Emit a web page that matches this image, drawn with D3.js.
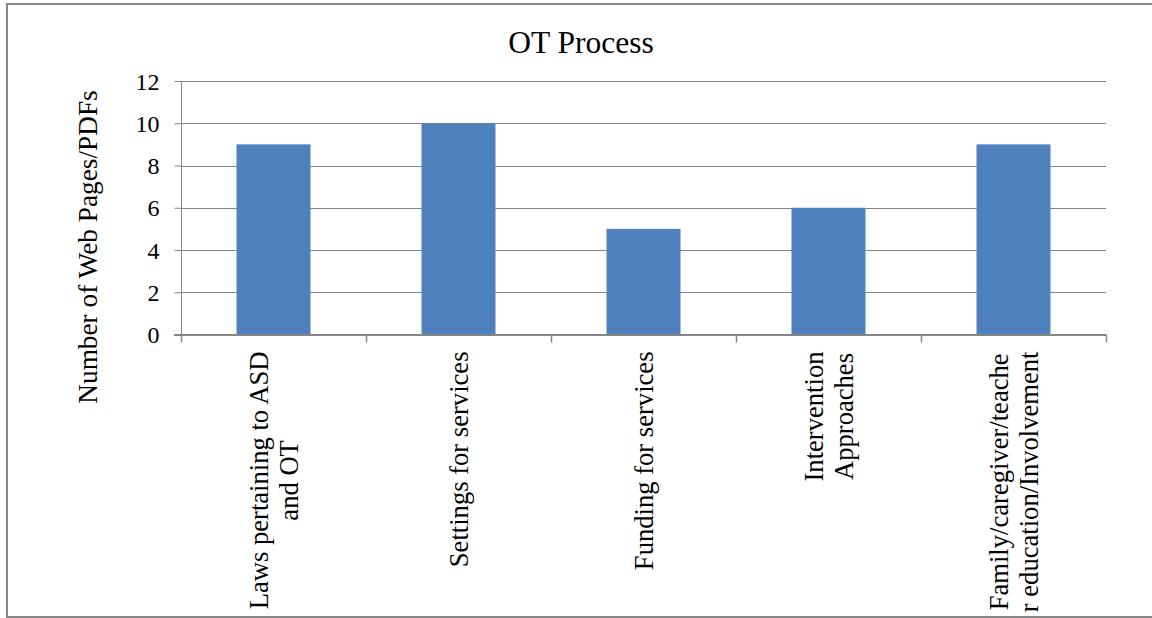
<!DOCTYPE html>
<html><head><meta charset="utf-8">
<script src="https://cdn.jsdelivr.net/npm/d3@7"></script>
<style>html,body{margin:0;padding:0;background:#fff;}svg{display:block;}</style>
</head><body>
<svg id="c" width="1152" height="618"></svg>
<script>
const title = "OT Process";
const yTitle = "Number of Web Pages/PDFs";
const categories = [
  ["Laws pertaining to ASD", "and OT"],
  ["Settings for services"],
  ["Funding for services"],
  ["Intervention", "Approaches"],
  ["Family/caregiver/teache", "r education/Involvement"]
];
const values = [9, 10, 5, 6, 9];
const yTicks = [0, 2, 4, 6, 8, 10, 12];

(function () {
const svg = d3.select("#c");
const font = "'Liberation Serif','Times New Roman',serif";
const grid = "#868686";
const pLeft = 181, pRight = 1106, pTop = 81, pBottom = 334.5;

svg.append("rect").attr("x", 7).attr("y", 4).attr("width", 1160).attr("height", 613)
  .attr("fill", "#fff").attr("stroke", grid).attr("stroke-width", 2);

const idx = categories.map((d, i) => i);
const x = d3.scaleBand().domain(idx).range([pLeft, pRight]).paddingInner(0).paddingOuter(0);
const y = d3.scaleLinear().domain([0, 12]).range([pBottom, pTop]);

// gridlines
svg.append("g").selectAll("line").data(yTicks.filter(t => t > 0)).join("line")
  .attr("x1", pLeft).attr("x2", pRight)
  .attr("y1", d => Math.round(y(d)) + 0.5).attr("y2", d => Math.round(y(d)) + 0.5)
  .attr("stroke", grid).attr("stroke-width", 1);

// bars
const bw = x.bandwidth() * 0.4;
svg.append("g").selectAll("rect").data(values).join("rect")
  .attr("x", (d, i) => x(i) + (x.bandwidth() - bw) / 2)
  .attr("width", bw)
  .attr("y", d => y(d))
  .attr("height", d => y(0) - y(d))
  .attr("fill", "#4F81BD");

// y axis
const yAxis = d3.axisLeft(y).tickValues(yTicks).tickSize(7).tickPadding(15).tickFormat(d3.format("d"));
const gy = svg.append("g").attr("transform", `translate(${pLeft + 0.5},0)`).call(yAxis);
gy.select(".domain").attr("stroke", grid).attr("d", `M0,${pTop}V${pBottom}`).attr("stroke-width", 1);
gy.selectAll(".tick line").attr("stroke", grid);
gy.selectAll(".tick text").attr("font-family", font).attr("font-size", 24).attr("fill", "#000")
  .attr("dy", "0.34em");

// x axis line
svg.append("line").attr("x1", pLeft - 7).attr("x2", pRight).attr("y1", pBottom + 0.5).attr("y2", pBottom + 0.5)
  .attr("stroke", grid).attr("stroke-width", 2);
const bounds = idx.map(i => x(i)).concat([pRight]);
svg.append("g").selectAll("line").data(bounds).join("line")
  .attr("x1", d => Math.round(d) + 0.5).attr("x2", d => Math.round(d) + 0.5)
  .attr("y1", pBottom).attr("y2", pBottom + 8)
  .attr("stroke", grid).attr("stroke-width", 1.5);

// category labels (rotated)
const lineGap = 30;
categories.forEach((lines, i) => {
  const cx = x(i) + x.bandwidth() / 2;
  const g = svg.append("g").attr("transform", `translate(${cx},${pBottom + 17}) rotate(-90)`);
  const t = g.append("text").attr("font-family", font).attr("font-size", 26.6).attr("fill", "#000")
    .attr("text-anchor", "middle");
  const n = lines.length;
  const tsp = lines.map((s, k) => t.append("tspan").attr("y", (k - (n - 1) / 2) * lineGap).attr("dy", "0.35em").text(s));
  let maxW = 0;
  tsp.forEach(ts => { maxW = Math.max(maxW, ts.node().getComputedTextLength()); });
  tsp.forEach(ts => ts.attr("x", -maxW / 2));
});

// y title
svg.append("text").attr("transform", `translate(97,247) rotate(-90)`)
  .attr("text-anchor", "middle").attr("font-family", font).attr("font-size", 27.3).attr("fill", "#000")
  .text(yTitle);

// chart title
svg.append("text").attr("x", 581).attr("y", 53).attr("text-anchor", "middle")
  .attr("font-family", font).attr("font-size", 31.5).attr("fill", "#000").text(title);
})();
</script>
</body></html>
